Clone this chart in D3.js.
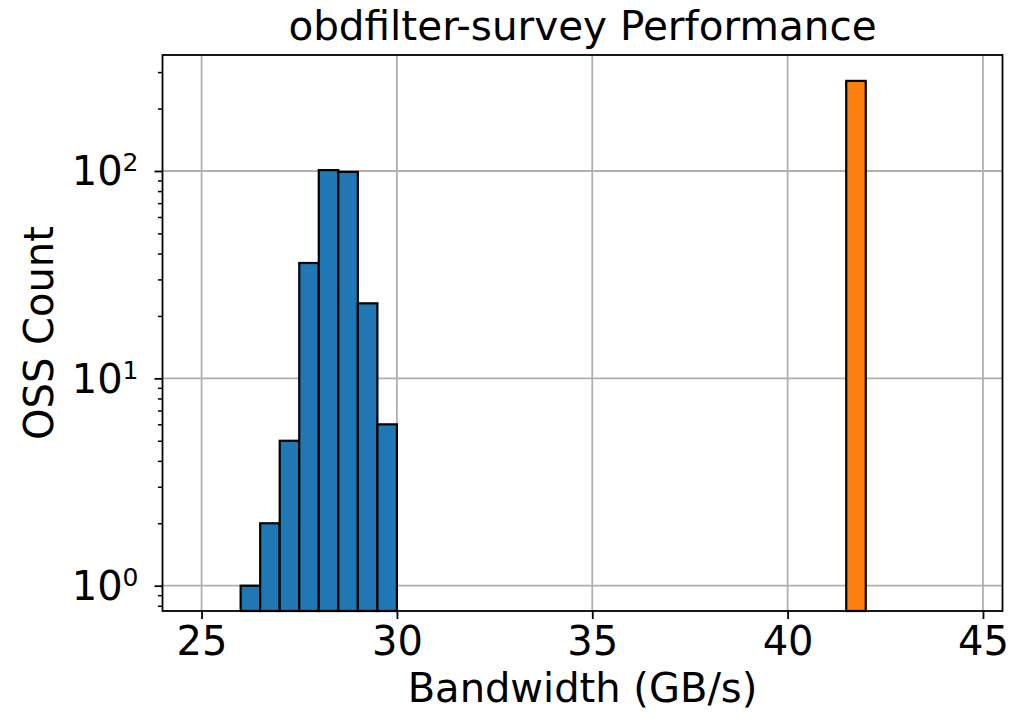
<!DOCTYPE html>
<html>
<head>
    <title>obdfilter-survey Performance</title>
    <script src="https://d3js.org/d3.v7.min.js"></script>
    <style>
        body {
            margin: 0;
            background: white;
            overflow: hidden;
        }
        text {
            font-family: "DejaVu Sans", sans-serif;
            fill: black;
        }
    </style>
</head>
<body>
    <div id="viz"></div>
    <script>
        // histogram bins (left edges, GB/s) and OSS counts
        const binWidth = 0.5;
        const blueBins = [26, 26.5, 27, 27.5, 28, 28.5, 29, 29.5];
        const blueCounts = [1, 2, 5, 36, 101, 99, 23, 6];
        const orangeBins = [41.5];
        const orangeCounts = [272];
        const xTicks = [25, 30, 35, 40, 45];
        const yTicks = [1, 10, 100];
        const yTickExp = ['0', '1', '2'];

        const width = 1023, height = 713;
        const margin = {top: 55, right: 20.5, bottom: 102, left: 162.5};
        const x0 = margin.left, x1 = width - margin.right;
        const y0 = margin.top, y1 = height - margin.bottom;

        const svg = d3.select('#viz')
            .append('svg')
            .attr('width', width)
            .attr('height', height);

        const x = d3.scaleLinear().domain([24, 45.5]).range([x0, x1]);
        const y = d3.scaleLog().domain([0.755, 362.6]).range([y1, y0]);

        // grid (below the bars)
        const grid = svg.append('g');
        grid.selectAll('line.gx')
            .data(xTicks)
            .enter().append('line')
            .attr('x1', d => x(d)).attr('x2', d => x(d))
            .attr('y1', y0).attr('y2', y1)
            .style('stroke', '#b0b0b0')
            .style('stroke-width', 1.8);
        grid.selectAll('line.gy')
            .data(yTicks)
            .enter().append('line')
            .attr('x1', x0).attr('x2', x1)
            .attr('y1', d => y(d)).attr('y2', d => y(d))
            .style('stroke', '#b0b0b0')
            .style('stroke-width', 1.8);

        // bars
        function drawBars(bins, counts, color) {
            svg.append('g')
                .selectAll('rect')
                .data(bins.map((b, i) => ({b: b, c: counts[i]})))
                .enter().append('rect')
                .attr('x', d => x(d.b))
                .attr('width', d => x(d.b + binWidth) - x(d.b))
                .attr('y', d => y(d.c))
                .attr('height', d => y1 - y(d.c))
                .style('fill', color)
                .style('stroke', 'black')
                .style('stroke-width', 2.2);
        }
        drawBars(blueBins, blueCounts, '#1f77b4');
        drawBars(orangeBins, orangeCounts, '#ff7f0e');

        // x axis
        const xAxis = d3.axisBottom(x)
            .tickValues(xTicks)
            .tickSize(8)
            .tickPadding(8)
            .tickFormat(d3.format('d'));
        const gx = svg.append('g')
            .attr('transform', `translate(0,${y1})`)
            .call(xAxis);
        gx.select('.domain').remove();
        gx.selectAll('.tick line').style('stroke', 'black').style('stroke-width', 1.8);
        gx.selectAll('.tick text')
            .style('font-size', '40px')
            .style('font-family', '"DejaVu Sans", sans-serif');

        // y axis (log, with minor ticks)
        const minor = [];
        [0.1, 1, 10, 100].forEach(p => {
            for (let k = 2; k <= 9; k++) {
                const v = k * p;
                if (v >= y.domain()[0] && v <= y.domain()[1]) minor.push(v);
            }
        });
        const gyMinor = svg.append('g')
            .attr('transform', `translate(${x0},0)`)
            .call(d3.axisLeft(y).tickValues(minor).tickSize(4.6).tickFormat(''));
        gyMinor.select('.domain').remove();
        gyMinor.selectAll('.tick line').style('stroke', 'black').style('stroke-width', 1.5);

        const gy = svg.append('g')
            .attr('transform', `translate(${x0},0)`)
            .call(d3.axisLeft(y).tickValues(yTicks).tickSize(8).tickFormat(''));
        gy.select('.domain').remove();
        gy.selectAll('.tick line').style('stroke', 'black').style('stroke-width', 1.8);
        gy.selectAll('.tick').each(function(d, i) {
            const t = d3.select(this).append('text')
                .attr('x', -24)
                .attr('y', 14)
                .attr('text-anchor', 'end')
                .style('font-size', '40px');
            t.append('tspan').text('10');
            t.append('tspan')
                .attr('dy', -14)
                .style('font-size', '25px')
                .text(yTickExp[i]);
        });

        // frame
        svg.append('rect')
            .attr('x', x0).attr('y', y0)
            .attr('width', x1 - x0).attr('height', y1 - y0)
            .style('fill', 'none')
            .style('stroke', 'black')
            .style('stroke-width', 1.8);

        // labels
        svg.append('text')
            .attr('x', (x0 + x1) / 2)
            .attr('y', 40)
            .attr('text-anchor', 'middle')
            .style('font-size', '40.5px')
            .text('obdfilter-survey Performance');

        svg.append('text')
            .attr('x', (x0 + x1) / 2)
            .attr('y', 702)
            .attr('text-anchor', 'middle')
            .style('font-size', '40px')
            .text('Bandwidth (GB/s)');

        svg.append('text')
            .attr('transform', `translate(53,${(y0 + y1) / 2}) rotate(-90)`)
            .attr('text-anchor', 'middle')
            .style('font-size', '40px')
            .text('OSS Count');
    </script>
</body>
</html>
